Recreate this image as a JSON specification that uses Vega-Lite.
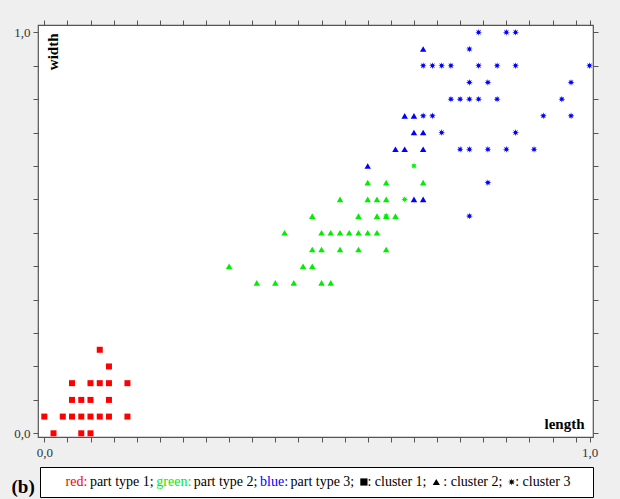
{
  "$schema": "https://vega.github.io/schema/vega-lite/v6.json",
  "width": 555,
  "height": 412,
  "autosize": {"type": "none"},
  "padding": {"left": 38, "top": 25, "right": 27, "bottom": 62},
  "background": "#efefef",
  "title": {"text": "(b)", "orient": "bottom", "anchor": "start", "frame": "group", "font": "Liberation Serif", "fontSize": 19, "fontWeight": "bold", "color": "black", "dx": -26.5, "offset": -20, "baseline": "top"},
  "config": {
    "view": {"fill": "white", "stroke": "#555", "strokeWidth": 1.2},
    "font": "Liberation Serif"
  },
  "data": {"values": [
    {"length": 0.0169, "width": 0, "type": "part type 1", "cluster": "cluster 1"},
    {"length": 0.0678, "width": 0, "type": "part type 1", "cluster": "cluster 1"},
    {"length": 0.0847, "width": 0, "type": "part type 1", "cluster": "cluster 1"},
    {"length": 0, "width": 0.0417, "type": "part type 1", "cluster": "cluster 1"},
    {"length": 0.0339, "width": 0.0417, "type": "part type 1", "cluster": "cluster 1"},
    {"length": 0.0508, "width": 0.0417, "type": "part type 1", "cluster": "cluster 1"},
    {"length": 0.0678, "width": 0.0417, "type": "part type 1", "cluster": "cluster 1"},
    {"length": 0.0847, "width": 0.0417, "type": "part type 1", "cluster": "cluster 1"},
    {"length": 0.1017, "width": 0.0417, "type": "part type 1", "cluster": "cluster 1"},
    {"length": 0.1186, "width": 0.0417, "type": "part type 1", "cluster": "cluster 1"},
    {"length": 0.1525, "width": 0.0417, "type": "part type 1", "cluster": "cluster 1"},
    {"length": 0.0508, "width": 0.0833, "type": "part type 1", "cluster": "cluster 1"},
    {"length": 0.0678, "width": 0.0833, "type": "part type 1", "cluster": "cluster 1"},
    {"length": 0.0847, "width": 0.0833, "type": "part type 1", "cluster": "cluster 1"},
    {"length": 0.1186, "width": 0.0833, "type": "part type 1", "cluster": "cluster 1"},
    {"length": 0.0508, "width": 0.125, "type": "part type 1", "cluster": "cluster 1"},
    {"length": 0.0847, "width": 0.125, "type": "part type 1", "cluster": "cluster 1"},
    {"length": 0.1017, "width": 0.125, "type": "part type 1", "cluster": "cluster 1"},
    {"length": 0.1186, "width": 0.125, "type": "part type 1", "cluster": "cluster 1"},
    {"length": 0.1525, "width": 0.125, "type": "part type 1", "cluster": "cluster 1"},
    {"length": 0.1186, "width": 0.1667, "type": "part type 1", "cluster": "cluster 1"},
    {"length": 0.1017, "width": 0.2083, "type": "part type 1", "cluster": "cluster 1"},

    {"length": 0.3898, "width": 0.375, "type": "part type 2", "cluster": "cluster 2"},
    {"length": 0.4237, "width": 0.375, "type": "part type 2", "cluster": "cluster 2"},
    {"length": 0.4576, "width": 0.375, "type": "part type 2", "cluster": "cluster 2"},
    {"length": 0.5085, "width": 0.375, "type": "part type 2", "cluster": "cluster 2"},
    {"length": 0.5254, "width": 0.375, "type": "part type 2", "cluster": "cluster 2"},
    {"length": 0.339, "width": 0.4167, "type": "part type 2", "cluster": "cluster 2"},
    {"length": 0.4746, "width": 0.4167, "type": "part type 2", "cluster": "cluster 2"},
    {"length": 0.4915, "width": 0.4167, "type": "part type 2", "cluster": "cluster 2"},
    {"length": 0.4915, "width": 0.4583, "type": "part type 2", "cluster": "cluster 2"},
    {"length": 0.5085, "width": 0.4583, "type": "part type 2", "cluster": "cluster 2"},
    {"length": 0.5424, "width": 0.4583, "type": "part type 2", "cluster": "cluster 2"},
    {"length": 0.5763, "width": 0.4583, "type": "part type 2", "cluster": "cluster 2"},
    {"length": 0.6271, "width": 0.4583, "type": "part type 2", "cluster": "cluster 2"},
    {"length": 0.4407, "width": 0.5, "type": "part type 2", "cluster": "cluster 2"},
    {"length": 0.5085, "width": 0.5, "type": "part type 2", "cluster": "cluster 2"},
    {"length": 0.5254, "width": 0.5, "type": "part type 2", "cluster": "cluster 2"},
    {"length": 0.5424, "width": 0.5, "type": "part type 2", "cluster": "cluster 2"},
    {"length": 0.5593, "width": 0.5, "type": "part type 2", "cluster": "cluster 2"},
    {"length": 0.5763, "width": 0.5, "type": "part type 2", "cluster": "cluster 2"},
    {"length": 0.5932, "width": 0.5, "type": "part type 2", "cluster": "cluster 2"},
    {"length": 0.6102, "width": 0.5, "type": "part type 2", "cluster": "cluster 2"},
    {"length": 0.4915, "width": 0.5417, "type": "part type 2", "cluster": "cluster 2"},
    {"length": 0.5763, "width": 0.5417, "type": "part type 2", "cluster": "cluster 2"},
    {"length": 0.6102, "width": 0.5417, "type": "part type 2", "cluster": "cluster 2"},
    {"length": 0.6271, "width": 0.5417, "type": "part type 2", "cluster": "cluster 2"},
    {"length": 0.6441, "width": 0.5417, "type": "part type 2", "cluster": "cluster 2"},
    {"length": 0.5424, "width": 0.5833, "type": "part type 2", "cluster": "cluster 2"},
    {"length": 0.5932, "width": 0.5833, "type": "part type 2", "cluster": "cluster 2"},
    {"length": 0.6102, "width": 0.5833, "type": "part type 2", "cluster": "cluster 2"},
    {"length": 0.6271, "width": 0.5833, "type": "part type 2", "cluster": "cluster 2"},
    {"length": 0.5932, "width": 0.625, "type": "part type 2", "cluster": "cluster 2"},
    {"length": 0.6271, "width": 0.625, "type": "part type 2", "cluster": "cluster 2"},
    {"length": 0.6949, "width": 0.625, "type": "part type 2", "cluster": "cluster 2"},

    {"length": 0.6271, "width": 0.5417, "type": "part type 2", "cluster": "cluster 3"},
    {"length": 0.661, "width": 0.5833, "type": "part type 2", "cluster": "cluster 3"},
    {"length": 0.678, "width": 0.6667, "type": "part type 2", "cluster": "cluster 3"},

    {"length": 0.5932, "width": 0.6667, "type": "part type 3", "cluster": "cluster 2"},
    {"length": 0.678, "width": 0.5833, "type": "part type 3", "cluster": "cluster 2"},
    {"length": 0.6949, "width": 0.5833, "type": "part type 3", "cluster": "cluster 2"},
    {"length": 0.6441, "width": 0.7083, "type": "part type 3", "cluster": "cluster 2"},
    {"length": 0.661, "width": 0.7083, "type": "part type 3", "cluster": "cluster 2"},
    {"length": 0.6949, "width": 0.7083, "type": "part type 3", "cluster": "cluster 2"},
    {"length": 0.678, "width": 0.75, "type": "part type 3", "cluster": "cluster 2"},
    {"length": 0.6949, "width": 0.75, "type": "part type 3", "cluster": "cluster 2"},
    {"length": 0.661, "width": 0.7917, "type": "part type 3", "cluster": "cluster 2"},
    {"length": 0.678, "width": 0.7917, "type": "part type 3", "cluster": "cluster 2"},
    {"length": 0.6949, "width": 0.9583, "type": "part type 3", "cluster": "cluster 2"},

    {"length": 0.7797, "width": 0.5417, "type": "part type 3", "cluster": "cluster 3"},
    {"length": 0.8136, "width": 0.625, "type": "part type 3", "cluster": "cluster 3"},
    {"length": 0.7627, "width": 0.7083, "type": "part type 3", "cluster": "cluster 3"},
    {"length": 0.7797, "width": 0.7083, "type": "part type 3", "cluster": "cluster 3"},
    {"length": 0.8136, "width": 0.7083, "type": "part type 3", "cluster": "cluster 3"},
    {"length": 0.8475, "width": 0.7083, "type": "part type 3", "cluster": "cluster 3"},
    {"length": 0.8983, "width": 0.7083, "type": "part type 3", "cluster": "cluster 3"},
    {"length": 0.7288, "width": 0.75, "type": "part type 3", "cluster": "cluster 3"},
    {"length": 0.8644, "width": 0.75, "type": "part type 3", "cluster": "cluster 3"},
    {"length": 0.6949, "width": 0.7917, "type": "part type 3", "cluster": "cluster 3"},
    {"length": 0.7119, "width": 0.7917, "type": "part type 3", "cluster": "cluster 3"},
    {"length": 0.9153, "width": 0.7917, "type": "part type 3", "cluster": "cluster 3"},
    {"length": 0.9661, "width": 0.7917, "type": "part type 3", "cluster": "cluster 3"},
    {"length": 0.7458, "width": 0.8333, "type": "part type 3", "cluster": "cluster 3"},
    {"length": 0.7627, "width": 0.8333, "type": "part type 3", "cluster": "cluster 3"},
    {"length": 0.7797, "width": 0.8333, "type": "part type 3", "cluster": "cluster 3"},
    {"length": 0.7966, "width": 0.8333, "type": "part type 3", "cluster": "cluster 3"},
    {"length": 0.8305, "width": 0.8333, "type": "part type 3", "cluster": "cluster 3"},
    {"length": 0.9492, "width": 0.8333, "type": "part type 3", "cluster": "cluster 3"},
    {"length": 0.7797, "width": 0.875, "type": "part type 3", "cluster": "cluster 3"},
    {"length": 0.8136, "width": 0.875, "type": "part type 3", "cluster": "cluster 3"},
    {"length": 0.9661, "width": 0.875, "type": "part type 3", "cluster": "cluster 3"},
    {"length": 0.6949, "width": 0.9167, "type": "part type 3", "cluster": "cluster 3"},
    {"length": 0.7119, "width": 0.9167, "type": "part type 3", "cluster": "cluster 3"},
    {"length": 0.7288, "width": 0.9167, "type": "part type 3", "cluster": "cluster 3"},
    {"length": 0.7458, "width": 0.9167, "type": "part type 3", "cluster": "cluster 3"},
    {"length": 0.7966, "width": 0.9167, "type": "part type 3", "cluster": "cluster 3"},
    {"length": 0.8305, "width": 0.9167, "type": "part type 3", "cluster": "cluster 3"},
    {"length": 0.8644, "width": 0.9167, "type": "part type 3", "cluster": "cluster 3"},
    {"length": 1.0, "width": 0.9167, "type": "part type 3", "cluster": "cluster 3"},
    {"length": 0.7797, "width": 0.9583, "type": "part type 3", "cluster": "cluster 3"},
    {"length": 0.7966, "width": 1.0, "type": "part type 3", "cluster": "cluster 3"},
    {"length": 0.8475, "width": 1.0, "type": "part type 3", "cluster": "cluster 3"},
    {"length": 0.8644, "width": 1.0, "type": "part type 3", "cluster": "cluster 3"}
  ]},
  "layer": [
    {
      "mark": {"type": "point", "filled": true, "opacity": 1},
      "encoding": {
        "x": {
          "field": "length", "type": "quantitative",
          "scale": {"domain": [-0.01156, 1.0064], "nice": false, "zero": false},
          "axis": {
            "orient": "bottom",
            "values": [0, 0.04237, 0.08475, 0.12712, 0.16949, 0.21186, 0.25424, 0.29661, 0.33898, 0.38136, 0.42373, 0.4661, 0.50847, 0.55085, 0.59322, 0.63559, 0.67797, 0.72034, 0.76271, 0.80508, 0.84746, 0.88983, 0.9322, 0.97458, 1],
            "labelExpr": "datum.value == 0 ? '0,0' : datum.value == 1 ? '1,0' : ''",
            "labelOverlap": false, "labelBound": false, "labelFlush": false,
            "domain": false, "grid": false,
            "tickSize": 5, "tickColor": "#555", "tickWidth": 1,
            "labelFont": "Liberation Serif", "labelFontSize": 13, "labelColor": "#333", "labelPadding": 4,
            "title": "length", "titleFont": "Liberation Serif", "titleFontSize": 15, "titleFontWeight": "bold", "titleColor": "black",
            "titleX": 546, "titleY": -9, "titleAlign": "right", "titleBaseline": "alphabetic", "titleAngle": 0
          }
        },
        "y": {
          "field": "width", "type": "quantitative",
          "scale": {"domain": [-0.00923, 1.0182], "nice": false, "zero": false},
          "axis": {
            "orient": "left",
            "values": [0, 0.08333, 0.16667, 0.25, 0.33333, 0.41667, 0.5, 0.58333, 0.66667, 0.75, 0.83333, 0.91667, 1],
            "labelExpr": "datum.value == 0 ? '0,0' : datum.value == 1 ? '1,0' : ''",
            "labelOverlap": false, "labelBound": false, "labelFlush": false,
            "domain": false, "grid": false,
            "tickSize": 5, "tickColor": "#555", "tickWidth": 1,
            "labelFont": "Liberation Serif", "labelFontSize": 13, "labelColor": "#333", "labelPadding": 3,
            "title": "width", "titleFont": "Liberation Serif", "titleFontSize": 15, "titleFontWeight": "bold", "titleColor": "black",
            "titleX": 19, "titleY": 8, "titleAlign": "right", "titleBaseline": "alphabetic", "titleAngle": 270
          }
        },
        "color": {
          "field": "type", "type": "nominal",
          "scale": {"domain": ["part type 1", "part type 2", "part type 3"], "range": ["#ff0000", "#00ee00", "#0000ff"]},
          "legend": null
        },
        "size": {
          "field": "cluster", "type": "ordinal",
          "scale": {"domain": ["cluster 1", "cluster 2", "cluster 3"], "range": [36, 48, 85]},
          "legend": null
        },
        "shape": {
          "field": "cluster", "type": "nominal",
          "scale": {
            "domain": ["red:", "part type 1;", "green:", "part type 2;", "blue:", "part type 3;", "cluster 1", "cluster 2", "cluster 3"],
            "range": ["M0,0", "M0,0", "M0,0", "M0,0", "M0,0", "M0,0", "square", "triangle-up", "M1,0L0.40,0.165L0.707,0.707L0.165,0.40L0,1L-0.165,0.40L-0.707,0.707L-0.40,0.165L-1,0L-0.40,-0.165L-0.707,-0.707L-0.165,-0.40L0,-1L0.165,-0.40L0.707,-0.707L0.40,-0.165Z"]
          },
          "legend": {
            "orient": "none", "legendX": 2, "legendY": 442,
            "direction": "horizontal", "columns": 9, "gridAlign": "none",
            "title": null,
            "padding": 8, "strokeColor": "black", "fillColor": "white",
            "labelFont": "Liberation Serif", "labelFontSize": 14, "labelOffset": -14, "labelLimit": 0,
            "labelColor": {"expr": "datum.value == 'red:' ? '#ff0000' : datum.value == 'green:' ? '#00ee00' : datum.value == 'blue:' ? '#0000ff' : '#000000'"},
            "columnPadding": 1.4,
            "symbolSize": 52, "symbolStrokeWidth": 0, "symbolFillColor": "black", "symbolStrokeColor": "transparent", "symbolOffset": -3.5,
            "labelExpr": "datum.label == 'red:' ? '\u200b\u00a0\u00a0\u00a0\u00a0\u00a0\u00a0red:' : datum.label == 'cluster 1' ? '\u200b\u00a0\u00a0\u00a0: cluster 1;' : datum.label == 'cluster 2' ? '\u200b\u00a0\u00a0\u00a0\u00a0: cluster 2;' : datum.label == 'cluster 3' ? '\u200b\u00a0\u00a0\u00a0: cluster 3\u00a0\u00a0\u00a0\u00a0\u200b' : datum.label"
          }
        }
      }
    },
    {
      "mark": {"type": "point", "opacity": 0},
      "encoding": {
        "x": {
          "field": "length", "type": "quantitative",
          "axis": {
            "orient": "top",
            "values": [0, 0.04237, 0.08475, 0.12712, 0.16949, 0.21186, 0.25424, 0.29661, 0.33898, 0.38136, 0.42373, 0.4661, 0.50847, 0.55085, 0.59322, 0.63559, 0.67797, 0.72034, 0.76271, 0.80508, 0.84746, 0.88983, 0.9322, 0.97458, 1],
            "labels": false, "domain": false, "grid": false, "title": null,
            "tickSize": 5, "tickColor": "#555", "tickWidth": 1
          }
        },
        "y": {
          "field": "width", "type": "quantitative",
          "axis": {
            "orient": "right",
            "values": [0, 0.08333, 0.16667, 0.25, 0.33333, 0.41667, 0.5, 0.58333, 0.66667, 0.75, 0.83333, 0.91667, 1],
            "labels": false, "domain": false, "grid": false, "title": null,
            "tickSize": 5, "tickColor": "#555", "tickWidth": 1
          }
        }
      }
    }
  ],
  "resolve": {"axis": {"x": "independent", "y": "independent"}}
}
